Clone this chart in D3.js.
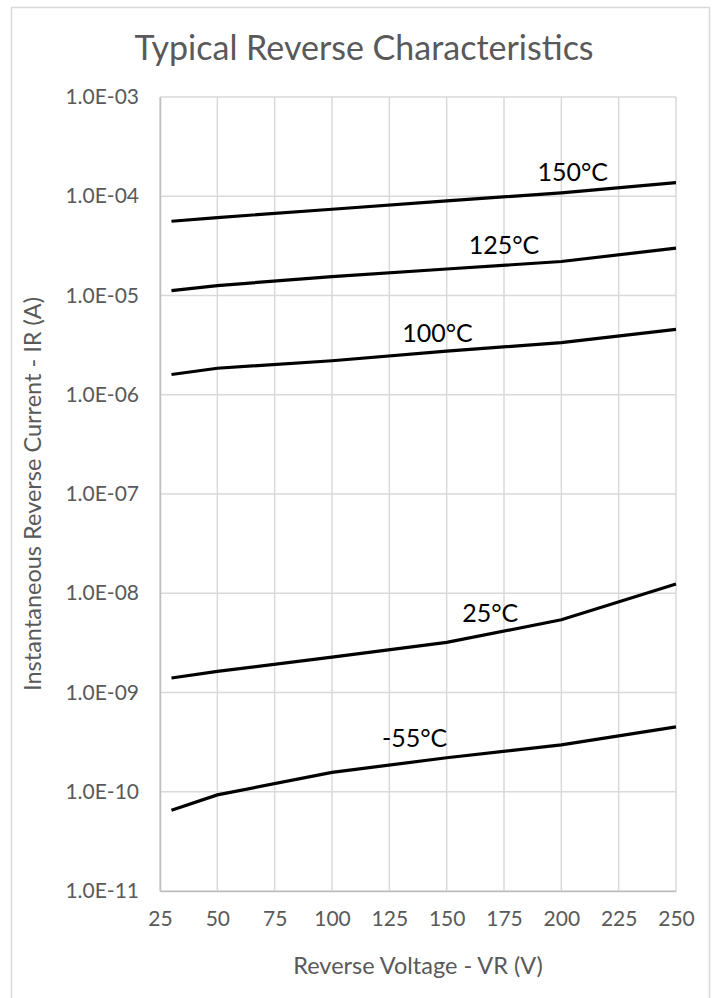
<!DOCTYPE html>
<html>
<head>
<meta charset="utf-8">
<script src="https://cdn.jsdelivr.net/npm/d3@7"></script>
<style>
    body { margin: 0; background: #fff; }
    text { font-family: Lato, "Open Sans", sans-serif; }
</style>
</head>
<body>
<svg id="root" width="717" height="998"></svg>
<script>
// reverse voltage (V)
const voltages = [30, 50, 100, 150, 200, 250];

// instantaneous reverse current (A) per temperature
const ir150 = [5.6e-5, 6.1e-5, 7.4e-5, 9.0e-5, 1.08e-4, 1.37e-4];
const ir125 = [1.12e-5, 1.26e-5, 1.55e-5, 1.85e-5, 2.2e-5, 3.0e-5];
const ir100 = [1.6e-6, 1.85e-6, 2.2e-6, 2.75e-6, 3.35e-6, 4.55e-6];
const ir25 = [1.4e-9, 1.63e-9, 2.27e-9, 3.2e-9, 5.4e-9, 1.24e-8];
const irMinus55 = [6.5e-11, 9.3e-11, 1.57e-10, 2.2e-10, 2.97e-10, 4.5e-10];

const seriesNames = ["150°C", "125°C", "100°C", "25°C", "-55°C"];
const seriesValues = [ir150, ir125, ir100, ir25, irMinus55];

const xTicks = [25, 50, 75, 100, 125, 150, 175, 200, 225, 250];
const yTicks = [1e-3, 1e-4, 1e-5, 1e-6, 1e-7, 1e-8, 1e-9, 1e-10, 1e-11];

const title = "Typical Reverse Characteristics";
const xTitle = "Reverse Voltage - VR (V)";
const yTitle = "Instantaneous Reverse Current - IR (A)";

// where each series label sits, in data units (voltage, current)
const labelAnchors = [
    [205, 10 ** -3.742],
    [175, 10 ** -4.482],
    [146, 10 ** -5.365],
    [169, 10 ** -8.191],
    [136, 10 ** -9.45],
];

const main = () => {
    const svg = d3.select("#root");

    const margin = { top: 97, left: 160, bottom: 107, right: 41 };
    const dimensions = { width: 717, height: 998 };

    // outer chart frame
    svg.append("rect")
        .attr("x", 11.5)
        .attr("y", 7.5)
        .attr("width", 698)
        .attr("height", 1000)
        .attr("fill", "#fff")
        .attr("stroke", "#d9d9d9")
        .attr("stroke-width", 1.5);

    const xScale = d3
        .scaleLinear()
        .domain([25, 250])
        .range([margin.left, dimensions.width - margin.right]);
    const yScale = d3
        .scaleLog()
        .domain([1e-11, 1e-3])
        .range([dimensions.height - margin.bottom, margin.top]);

    const fmt = (v) => {
        const exp = Math.round(Math.log10(v));
        const sign = exp < 0 ? "-" : "+";
        return "1.0E" + sign + String(Math.abs(exp)).padStart(2, "0");
    };

    // gridlines
    const grid = svg.append("g");
    grid.selectAll("line.v")
        .data(xTicks)
        .join("line")
        .attr("class", "v")
        .attr("x1", (d) => xScale(d))
        .attr("x2", (d) => xScale(d))
        .attr("y1", yScale(1e-3))
        .attr("y2", yScale(1e-11))
        .attr("stroke", "#d9d9d9")
        .attr("stroke-width", 1.5);
    grid.selectAll("line.h")
        .data(yTicks)
        .join("line")
        .attr("class", "h")
        .attr("x1", xScale(25))
        .attr("x2", xScale(250))
        .attr("y1", (d) => yScale(d))
        .attr("y2", (d) => yScale(d))
        .attr("stroke", "#d9d9d9")
        .attr("stroke-width", 1.5);

    // axes
    const xAxis = d3.axisBottom(xScale).tickValues(xTicks).tickSize(0).tickPadding(20);
    svg.append("g")
        .attr("transform", `translate(0, ${yScale(1e-11)})`)
        .call(xAxis)
        .call((g) => g.select(".domain").attr("stroke", "#bfbfbf").attr("stroke-width", 1.5))
        .call((g) =>
            g.selectAll("text")
                .attr("fill", "#595959")
                .style("font-size", "21px")
        );

    const yAxis = d3.axisLeft(yScale).tickValues(yTicks).tickFormat(fmt).tickSize(0).tickPadding(21);
    svg.append("g")
        .attr("transform", `translate(${xScale(25)}, 0)`)
        .call(yAxis)
        .call((g) => g.select(".domain").attr("stroke", "#bfbfbf").attr("stroke-width", 1.5))
        .call((g) =>
            g.selectAll("text")
                .attr("fill", "#595959")
                .style("font-size", "21px")
        );

    // series lines
    const line = d3
        .line()
        .x((d) => xScale(d[0]))
        .y((d) => yScale(d[1]));

    svg.append("g")
        .selectAll("path")
        .data(seriesValues)
        .join("path")
        .attr("d", (vals) => line(vals.map((v, i) => [voltages[i], v])))
        .attr("fill", "none")
        .attr("stroke", "#000")
        .attr("stroke-width", 3.2);

    // series labels
    svg.append("g")
        .selectAll("text")
        .data(seriesNames)
        .join("text")
        .attr("x", (d, i) => xScale(labelAnchors[i][0]))
        .attr("y", (d, i) => yScale(labelAnchors[i][1]))
        .attr("text-anchor", "middle")
        .attr("dominant-baseline", "central")
        .attr("fill", "#000")
        .style("font-size", "25px")
        .text((d) => d);

    // titles
    svg.append("text")
        .attr("x", 364)
        .attr("y", 60)
        .attr("text-anchor", "middle")
        .attr("fill", "#595959")
        .style("font-size", "34px")
        .text(title);

    svg.append("text")
        .attr("x", (xScale(25) + xScale(250)) / 2)
        .attr("y", 974)
        .attr("text-anchor", "middle")
        .attr("fill", "#595959")
        .style("font-size", "23.5px")
        .text(xTitle);

    svg.append("text")
        .attr("transform", `translate(41, ${(yScale(1e-3) + yScale(1e-11)) / 2}) rotate(-90)`)
        .attr("text-anchor", "middle")
        .attr("fill", "#595959")
        .style("font-size", "23.5px")
        .text(yTitle);
};

main();
</script>
</body>
</html>
